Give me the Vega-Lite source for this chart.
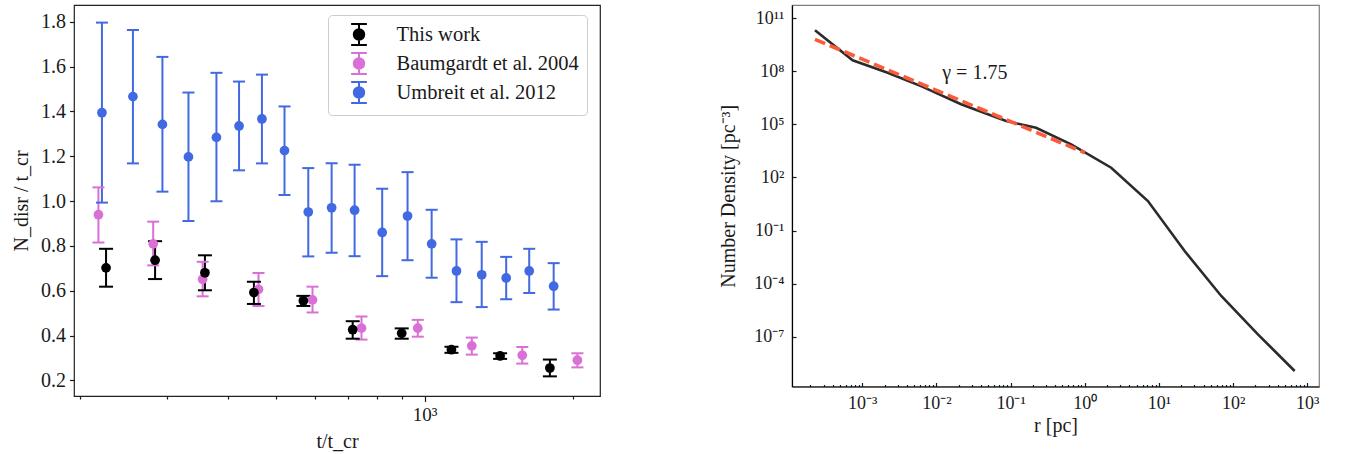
{
  "$schema": "https://vega.github.io/schema/vega-lite/v6.json",
  "padding": {"left": 10, "top": 4, "right": 0, "bottom": 0},
  "background": "white",
  "config": {
    "font": "Liberation Serif",
    "axis": {"grid": false, "labelFont": "Liberation Serif", "titleFont": "Liberation Serif", "labelColor": "#1a1a1a", "titleColor": "#1a1a1a", "tickColor": "#1a1a1a", "domainColor": "#000000", "titleFontWeight": "normal", "labelFontSize": 19, "titleFontSize": 20, "tickWidth": 1.2, "domainWidth": 1.2, "labelFlush": false, "labelOverlap": false},
    "text": {"font": "Liberation Serif"}
  },
  "datasets": {
    "err": [
      {"series": "Umbreit et al. 2012", "t": 221.6, "val": 1.394, "lo": 0.993, "hi": 1.796},
      {"series": "Umbreit et al. 2012", "t": 256.1, "val": 1.466, "lo": 1.168, "hi": 1.763},
      {"series": "Umbreit et al. 2012", "t": 293.9, "val": 1.342, "lo": 1.042, "hi": 1.643},
      {"series": "Umbreit et al. 2012", "t": 331.9, "val": 1.197, "lo": 0.911, "hi": 1.484},
      {"series": "Umbreit et al. 2012", "t": 378.2, "val": 1.284, "lo": 0.999, "hi": 1.572},
      {"series": "Umbreit et al. 2012", "t": 420.3, "val": 1.335, "lo": 1.137, "hi": 1.533},
      {"series": "Umbreit et al. 2012", "t": 467.7, "val": 1.366, "lo": 1.168, "hi": 1.564},
      {"series": "Umbreit et al. 2012", "t": 519.7, "val": 1.225, "lo": 1.027, "hi": 1.422},
      {"series": "Umbreit et al. 2012", "t": 580.7, "val": 0.951, "lo": 0.753, "hi": 1.147},
      {"series": "Umbreit et al. 2012", "t": 647.6, "val": 0.970, "lo": 0.769, "hi": 1.169},
      {"series": "Umbreit et al. 2012", "t": 720.9, "val": 0.959, "lo": 0.754, "hi": 1.162},
      {"series": "Umbreit et al. 2012", "t": 820.0, "val": 0.860, "lo": 0.665, "hi": 1.055},
      {"series": "Umbreit et al. 2012", "t": 923.0, "val": 0.933, "lo": 0.736, "hi": 1.129},
      {"series": "Umbreit et al. 2012", "t": 1033, "val": 0.809, "lo": 0.658, "hi": 0.961},
      {"series": "Umbreit et al. 2012", "t": 1160, "val": 0.688, "lo": 0.549, "hi": 0.829},
      {"series": "Umbreit et al. 2012", "t": 1305, "val": 0.671, "lo": 0.527, "hi": 0.818},
      {"series": "Umbreit et al. 2012", "t": 1463, "val": 0.657, "lo": 0.562, "hi": 0.751},
      {"series": "Umbreit et al. 2012", "t": 1629, "val": 0.688, "lo": 0.590, "hi": 0.787},
      {"series": "Umbreit et al. 2012", "t": 1826, "val": 0.620, "lo": 0.516, "hi": 0.723},
      {"series": "Baumgardt et al. 2004", "t": 218.0, "val": 0.939, "lo": 0.815, "hi": 1.061},
      {"series": "Baumgardt et al. 2004", "t": 281.5, "val": 0.809, "lo": 0.713, "hi": 0.908},
      {"series": "Baumgardt et al. 2004", "t": 354.6, "val": 0.651, "lo": 0.575, "hi": 0.729},
      {"series": "Baumgardt et al. 2004", "t": 460.3, "val": 0.606, "lo": 0.532, "hi": 0.679},
      {"series": "Baumgardt et al. 2004", "t": 592.3, "val": 0.559, "lo": 0.503, "hi": 0.618},
      {"series": "Baumgardt et al. 2004", "t": 744.5, "val": 0.433, "lo": 0.382, "hi": 0.485},
      {"series": "Baumgardt et al. 2004", "t": 968.3, "val": 0.433, "lo": 0.395, "hi": 0.470},
      {"series": "Baumgardt et al. 2004", "t": 1246, "val": 0.354, "lo": 0.315, "hi": 0.391},
      {"series": "Baumgardt et al. 2004", "t": 1577, "val": 0.312, "lo": 0.275, "hi": 0.349},
      {"series": "Baumgardt et al. 2004", "t": 2040, "val": 0.290, "lo": 0.258, "hi": 0.321},
      {"series": "This work", "t": 225.9, "val": 0.702, "lo": 0.618, "hi": 0.787},
      {"series": "This work", "t": 284.0, "val": 0.736, "lo": 0.652, "hi": 0.821},
      {"series": "This work", "t": 358.4, "val": 0.680, "lo": 0.602, "hi": 0.758},
      {"series": "This work", "t": 450.5, "val": 0.592, "lo": 0.541, "hi": 0.640},
      {"series": "This work", "t": 567.5, "val": 0.555, "lo": 0.532, "hi": 0.577},
      {"series": "This work", "t": 714.5, "val": 0.426, "lo": 0.386, "hi": 0.464},
      {"series": "This work", "t": 898.2, "val": 0.410, "lo": 0.386, "hi": 0.432},
      {"series": "This work", "t": 1133, "val": 0.337, "lo": 0.323, "hi": 0.350},
      {"series": "This work", "t": 1422, "val": 0.309, "lo": 0.296, "hi": 0.321},
      {"series": "This work", "t": 1794, "val": 0.255, "lo": 0.218, "hi": 0.293}
    ],
    "dens": [
      {"r": 0.000230, "n": 2.07e10},
      {"r": 0.000741, "n": 4.17e8},
      {"r": 0.00220, "n": 8.32e7},
      {"r": 0.00631, "n": 1.41e7},
      {"r": 0.0215, "n": 1.36e6},
      {"r": 0.0325, "n": 7.08e5},
      {"r": 0.0869, "n": 1.55e5},
      {"r": 0.2203, "n": 6.46e4},
      {"r": 0.6546, "n": 7450},
      {"r": 2.27, "n": 354},
      {"r": 7.10, "n": 4.63},
      {"r": 22.2, "n": 0.00692},
      {"r": 69.2, "n": 2.0e-5},
      {"r": 216, "n": 1.35e-7},
      {"r": 676, "n": 1.15e-9}
    ],
    "fit": [
      {"r": 0.000230, "n": 6.41e9},
      {"r": 1.0, "n": 2495}
    ],
    "ann": [
      {"r": 0.0329, "n": 7.8e7, "label": "γ = 1.75"}
    ]
  },
  "spacing": 116,
  "bounds": "full",
  "hconcat": [
    {
      "width": 526,
      "height": 391,
      "view": {"stroke": "#222222", "strokeWidth": 1.2},
      "data": {"name": "err"},
      "layer": [
        {
          "mark": {"type": "rule", "strokeWidth": 2, "opacity": 1},
          "encoding": {
            "x": {"field": "t", "type": "quantitative", "scale": {"type": "log", "domain": [194.5, 2267], "nice": false},
              "axis": {"orient": "bottom", "values": [200, 300, 400, 500, 600, 700, 800, 900, 2000], "labels": false, "tickSize": 3, "domain": false, "title": null}},
            "y": {"field": "lo", "type": "quantitative", "scale": {"domain": [0.1304, 1.8745], "nice": false, "zero": false},
              "axis": {"values": [0.2, 0.4, 0.6, 0.8, 1.0, 1.2, 1.4, 1.6, 1.8], "format": ".1f", "tickSize": 4.5, "labelPadding": 4, "labelFontSize": 20, "domain": false, "title": "N_disr / t_cr", "titleX": -53, "titleBaseline": "middle"}},
            "y2": {"field": "hi"},
            "color": {"field": "series", "type": "nominal",
              "scale": {"domain": ["This work", "Baumgardt et al. 2004", "Umbreit et al. 2012"], "range": ["#000000", "#da70d6", "#4169e1"]},
              "legend": {
                "title": null, "orient": "none", "legendX": 254, "legendY": 10, "padding": 8,
                "symbolOffset": 11.5, "labelOffset": 26, "rowPadding": 0,
                "symbolType": "M-0.75,-1H0.75M0,-1V1M-0.75,1H0.75M0.5,0A0.5,0.5,0,1,1,-0.5,0A0.5,0.5,0,1,1,0.5,0Z",
                "symbolSize": 441, "symbolStrokeWidth": 2,
                "labelFontSize": 20.5, "labelFont": "Liberation Serif", "labelColor": "#1a1a1a", "labelLimit": 400,
                "fillColor": "white", "strokeColor": "#cccccc", "cornerRadius": 4,
                "encode": {"symbols": {"update": {
                  "fill": {"signal": "datum.value === 'This work' ? '#000000' : datum.value === 'Baumgardt et al. 2004' ? '#da70d6' : '#4169e1'"},
                  "stroke": {"signal": "datum.value === 'This work' ? '#000000' : datum.value === 'Baumgardt et al. 2004' ? '#da70d6' : '#4169e1'"},
                  "strokeWidth": {"value": 2},
                  "opacity": {"value": 1}
                }}}
              }}
          }
        },
        {
          "mark": {"type": "tick", "orient": "horizontal", "thickness": 2, "opacity": 1},
          "encoding": {
            "x": {"field": "t", "type": "quantitative", "axis": null},
            "y": {"field": "lo", "type": "quantitative"},
            "color": {"field": "series", "type": "nominal"},
            "size": {"condition": {"test": "datum.series === 'This work'", "value": 14}, "value": 12}
          }
        },
        {
          "mark": {"type": "tick", "orient": "horizontal", "thickness": 2, "opacity": 1},
          "encoding": {
            "x": {"field": "t", "type": "quantitative", "axis": null},
            "y": {"field": "hi", "type": "quantitative"},
            "color": {"field": "series", "type": "nominal"},
            "size": {"condition": {"test": "datum.series === 'This work'", "value": 14}, "value": 12}
          }
        },
        {
          "mark": {"type": "point", "filled": true, "size": 95, "opacity": 1, "strokeWidth": 0},
          "encoding": {
            "x": {"field": "t", "type": "quantitative",
              "axis": {"orient": "bottom", "values": [1000], "labelExpr": "'10³'", "tickSize": 5.5, "labelPadding": 4, "domain": false, "title": "t/t_cr", "titleY": 45, "titleBaseline": "middle"}},
            "y": {"field": "val", "type": "quantitative"},
            "color": {"field": "series", "type": "nominal"}
          }
        }
      ],
      "resolve": {"axis": {"x": "independent"}}
    },
    {
      "width": 527,
      "height": 381.5,
      "view": {"stroke": "#808080", "strokeWidth": 1.2},
      "layer": [
        {
          "data": {"name": "dens"},
          "mark": {"type": "line", "color": "#2b2b2b", "strokeWidth": 2.6},
          "encoding": {
            "x": {"field": "r", "type": "quantitative", "scale": {"type": "log", "domain": [0.0001127, 1439], "nice": false},
              "axis": {"orient": "bottom", "values": [0.0002, 0.0003, 0.0004, 0.0005, 0.0006, 0.0007, 0.0008, 0.0009, 0.002, 0.003, 0.004, 0.005, 0.006, 0.007, 0.008, 0.009, 0.02, 0.03, 0.04, 0.05, 0.06, 0.07, 0.08, 0.09, 0.2, 0.3, 0.4, 0.5, 0.6, 0.7, 0.8, 0.9, 2, 3, 4, 5, 6, 7, 8, 9, 20, 30, 40, 50, 60, 70, 80, 90, 200, 300, 400, 500, 600, 700, 800, 900], "labels": false, "tickSize": -2, "domain": false, "title": null}},
            "y": {"field": "n", "type": "quantitative", "scale": {"type": "log", "domain": [1.531e-10, 5.57e11], "nice": false},
              "axis": {"values": [1e-7, 1e-4, 0.1, 100, 1e5, 1e8, 1e11], "labelExpr": "datum.value > 1e10 ? '10¹¹' : datum.value > 1e7 ? '10⁸' : datum.value > 1e4 ? '10⁵' : datum.value > 10 ? '10²' : datum.value > 0.01 ? '10⁻¹' : datum.value > 1e-5 ? '10⁻⁴' : '10⁻⁷'", "tickSize": -4, "labelPadding": 12, "labelFontSize": 18, "domain": true, "title": "Number Density [pc⁻³]", "titleX": -64, "titleBaseline": "middle"}}
          }
        },
        {
          "data": {"name": "fit"},
          "mark": {"type": "line", "color": "#fb5b3a", "strokeWidth": 3.6, "strokeDash": [11, 5]},
          "encoding": {
            "x": {"field": "r", "type": "quantitative",
              "axis": {"orient": "bottom", "values": [0.001, 0.01, 0.1, 1, 10, 100, 1000], "labelExpr": "datum.value < 0.005 ? '10⁻³' : datum.value < 0.05 ? '10⁻²' : datum.value < 0.5 ? '10⁻¹' : datum.value < 5 ? '10⁰' : datum.value < 50 ? '10¹' : datum.value < 500 ? '10²' : '10³'", "tickSize": -4, "labelPadding": 12, "labelFontSize": 18, "domain": true, "title": "r [pc]", "titleY": 38.5, "titleBaseline": "middle"}},
            "y": {"field": "n", "type": "quantitative"}
          }
        },
        {
          "data": {"name": "ann"},
          "mark": {"type": "text", "fontSize": 20, "color": "#1a1a1a"},
          "encoding": {
            "x": {"field": "r", "type": "quantitative", "axis": null},
            "y": {"field": "n", "type": "quantitative"},
            "text": {"field": "label", "type": "nominal"}
          }
        }
      ],
      "resolve": {"axis": {"x": "independent"}}
    }
  ]
}
